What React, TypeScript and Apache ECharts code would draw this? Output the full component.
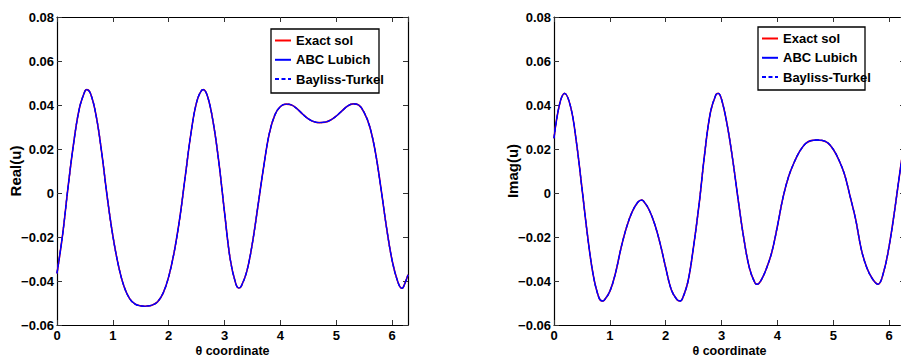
import React, { useEffect, useRef } from "react";
import * as echarts from "echarts";

// θ samples and values read from the Real(u) panel
const thetaReal = [
  0, 0.1, 0.2, 0.3, 0.4, 0.5, 0.53, 0.6, 0.7, 0.8, 0.9, 1.0, 1.1, 1.2, 1.3, 1.4, 1.5, 1.575, 1.6, 1.7,
  1.8, 1.9, 2.0, 2.1, 2.2, 2.3, 2.4, 2.5, 2.6, 2.62, 2.7, 2.8, 2.9, 3.0, 3.1, 3.2, 3.256, 3.3, 3.4, 3.5,
  3.6, 3.7, 3.8, 3.9, 4.0, 4.1, 4.2, 4.3, 4.4, 4.5, 4.6, 4.7, 4.8, 4.9, 5.0, 5.1, 5.2, 5.3, 5.4, 5.5,
  5.6, 5.7, 5.8, 5.9, 6.0, 6.1, 6.17, 6.2, 6.283,
];
const realU = [
  -0.0365, -0.019, 0.0031, 0.023, 0.0384, 0.0463, 0.047, 0.0452, 0.0352, 0.0184, -0.002, -0.0195, -0.033,
  -0.0425, -0.048, -0.0505, -0.0513, -0.0515, -0.0514, -0.051, -0.0495, -0.0455, -0.038, -0.0265, -0.011,
  0.0084, 0.0275, 0.0413, 0.0469, 0.047, 0.0435, 0.0315, 0.0134, -0.009, -0.03, -0.0412, -0.0432, -0.0423,
  -0.0354, -0.0224, -0.0054, 0.012, 0.027, 0.0355, 0.0393, 0.0404, 0.04, 0.0382, 0.0358, 0.0337, 0.0324,
  0.032, 0.0322, 0.0332, 0.035, 0.0373, 0.0395, 0.0405, 0.04, 0.0365, 0.03, 0.0185, 0.002, -0.0159,
  -0.0308, -0.0403, -0.0433, -0.0428, -0.0372,
];

// θ samples and values read from the Imag(u) panel
const thetaImag = [
  0, 0.1, 0.19, 0.3, 0.4, 0.5, 0.6, 0.7, 0.8, 0.86, 0.9, 1.0, 1.1, 1.2, 1.3, 1.4, 1.5, 1.565, 1.6, 1.7,
  1.8, 1.9, 2.0, 2.1, 2.2, 2.26, 2.3, 2.4, 2.5, 2.6, 2.7, 2.8, 2.9, 2.94, 3.0, 3.1, 3.2, 3.3, 3.4, 3.5,
  3.6, 3.636, 3.7, 3.8, 3.9, 4.0, 4.1, 4.2, 4.3, 4.4, 4.5, 4.6, 4.71, 4.8, 4.9, 5.0, 5.1, 5.2, 5.3, 5.4,
  5.5, 5.6, 5.7, 5.8, 5.9, 6.0, 6.1, 6.2, 6.283,
];
const imagU = [
  0.0249, 0.0404, 0.0453, 0.0389, 0.0233, 0.0023, -0.0193, -0.037, -0.0473, -0.0491, -0.0487, -0.0447,
  -0.0365, -0.025, -0.0155, -0.0085, -0.0042, -0.0032, -0.0036, -0.0075, -0.014, -0.023, -0.034, -0.044,
  -0.0484, -0.0491, -0.048, -0.04, -0.024, -0.0045, 0.0185, 0.0366, 0.0448, 0.0453, 0.0425, 0.031, 0.015,
  -0.0037, -0.021, -0.0343, -0.041, -0.0415, -0.04, -0.0345, -0.0268, -0.015, -0.002, 0.0075, 0.014, 0.019,
  0.0224, 0.0238, 0.0241, 0.0239, 0.0228, 0.0198, 0.015, 0.0085, -0.0015, -0.012, -0.0255, -0.034, -0.039,
  -0.0415, -0.036, -0.024, -0.0075, 0.011, 0.025,
];

const seriesNames = ["Exact sol", "ABC Lubich", "Bayliss-Turkel"];
const xTicks = [0, 1, 2, 3, 4, 5, 6];
const yMin = -0.06;
const yMax = 0.08;
const yStep = 0.02;
const xMax = 2 * Math.PI;

const FONT = "'Liberation Sans', Arial, Helvetica, sans-serif";

function pairs(xs: number[], ys: number[]) {
  return xs.map((x, i) => [x, ys[i]]);
}

function fmtY(v: number) {
  if (Math.abs(v) < 1e-9) return "0";
  return (v < 0 ? "\u2212" : "") + Math.abs(v).toFixed(2);
}

function fmtX(v: number) {
  const r = Math.round(v);
  return Math.abs(v - r) < 1e-6 && xTicks.includes(r) ? String(r) : "";
}

export default function App() {
  const ref = useRef<HTMLDivElement>(null);
  useEffect(() => {
    if (!ref.current) return;
    const chart = echarts.init(ref.current, undefined, { renderer: "svg" });
    const labelFont = { fontFamily: FONT, fontWeight: "bold" as const, fontSize: 12.5, color: "#000" };
    const axisLine = { show: true, onZero: false, lineStyle: { color: "#000", width: 1.2 } };
    const tick = { show: true, inside: true, length: 5, lineStyle: { color: "#333", width: 1 } };

    const xAxisFor = (grid: number, top: boolean) => ({
      type: "value",
      gridIndex: grid,
      position: top ? "top" : "bottom",
      min: 0,
      max: xMax,
      interval: 1,
      axisLine,
      axisTick: tick,
      splitLine: { show: false },
      axisLabel: top
        ? { show: false }
        : { ...labelFont, fontSize: 13, lineHeight: 13, margin: 4, formatter: fmtX, showMaxLabel: false },
      name: top ? "" : "\u03b8 coordinate",
      nameLocation: "middle",
      nameGap: 19,
      nameMoveOverlap: false,
      nameTextStyle: { ...labelFont, fontSize: 12.5, lineHeight: 13 },
    });
    const yAxisFor = (grid: number, right: boolean, name: string) => ({
      type: "value",
      gridIndex: grid,
      position: right ? "right" : "left",
      min: yMin,
      max: yMax,
      interval: yStep,
      axisLine,
      axisTick: tick,
      splitLine: { show: false },
      axisLabel: right ? { show: false } : { ...labelFont, fontSize: 13, margin: 3, formatter: fmtY },
      name: right ? "" : name,
      nameLocation: "middle",
      nameGap: 33,
      nameMoveOverlap: false,
      nameTextStyle: { ...labelFont, fontSize: 15, lineHeight: 17 },
    });

    const makeSeries = (xi: number, yi: number, data: number[][]) => [
      {
        name: seriesNames[0], type: "line", xAxisIndex: xi, yAxisIndex: yi, data,
        smooth: 0.4, symbol: "none", lineStyle: { color: "#ff0000", width: 1.6 }, itemStyle: { color: "#ff0000" },
      },
      {
        name: seriesNames[1], type: "line", xAxisIndex: xi, yAxisIndex: yi, data,
        smooth: 0.4, symbol: "none", lineStyle: { color: "#0000ff", width: 1.3 }, itemStyle: { color: "#0000ff" },
      },
      {
        name: seriesNames[2], type: "line", xAxisIndex: xi, yAxisIndex: yi, data,
        smooth: 0.4, symbol: "none", lineStyle: { color: "#0000ff", width: 1.3, type: [4, 2.5] },
        itemStyle: { color: "#0000ff" },
      },
    ];

    const legendFor = (left: number, top: number) => ({
      orient: "vertical",
      left,
      top,
      padding: 0,
      itemWidth: 16,
      itemHeight: 14,
      itemGap: 6.3,
      data: seriesNames,
      itemStyle: { opacity: 0 },
      textStyle: { ...labelFont, fontSize: 13 },
      selectedMode: false,
    });

    chart.setOption({
      animation: false,
      backgroundColor: "#ffffff",
      grid: [
        { left: 57, top: 17, width: 351, height: 308, show: false, outerBoundsMode: "none", containLabel: false },
        { left: 554, top: 17, width: 351, height: 308, show: false, outerBoundsMode: "none", containLabel: false },
      ],
      xAxis: [xAxisFor(0, false), xAxisFor(0, true), xAxisFor(1, false), xAxisFor(1, true)],
      yAxis: [
        yAxisFor(0, false, "Real(u)"),
        yAxisFor(0, true, ""),
        yAxisFor(1, false, "Imag(u)"),
        yAxisFor(1, true, ""),
      ],
      legend: [legendFor(274, 34), legendFor(761, 32)],
      graphic: [
        {
          type: "rect", z: 3, shape: { x: 271, y: 29, width: 108, height: 64 },
          style: { fill: "#fff", stroke: "#000", lineWidth: 1.3 },
        },
        {
          type: "rect", z: 3, shape: { x: 758, y: 27, width: 107, height: 63 },
          style: { fill: "#fff", stroke: "#000", lineWidth: 1.3 },
        },
      ],
      series: [
        ...makeSeries(0, 0, pairs(thetaReal, realU)),
        ...makeSeries(2, 2, pairs(thetaImag, imagU)),
      ],
    });
    return () => chart.dispose();
  }, []);

  return (
    <div style={{ position: "fixed", left: 0, top: 0, width: 901, height: 358, overflow: "hidden", background: "#fff" }}>
      <div ref={ref} style={{ width: 920, height: 358 }} />
    </div>
  );
}
